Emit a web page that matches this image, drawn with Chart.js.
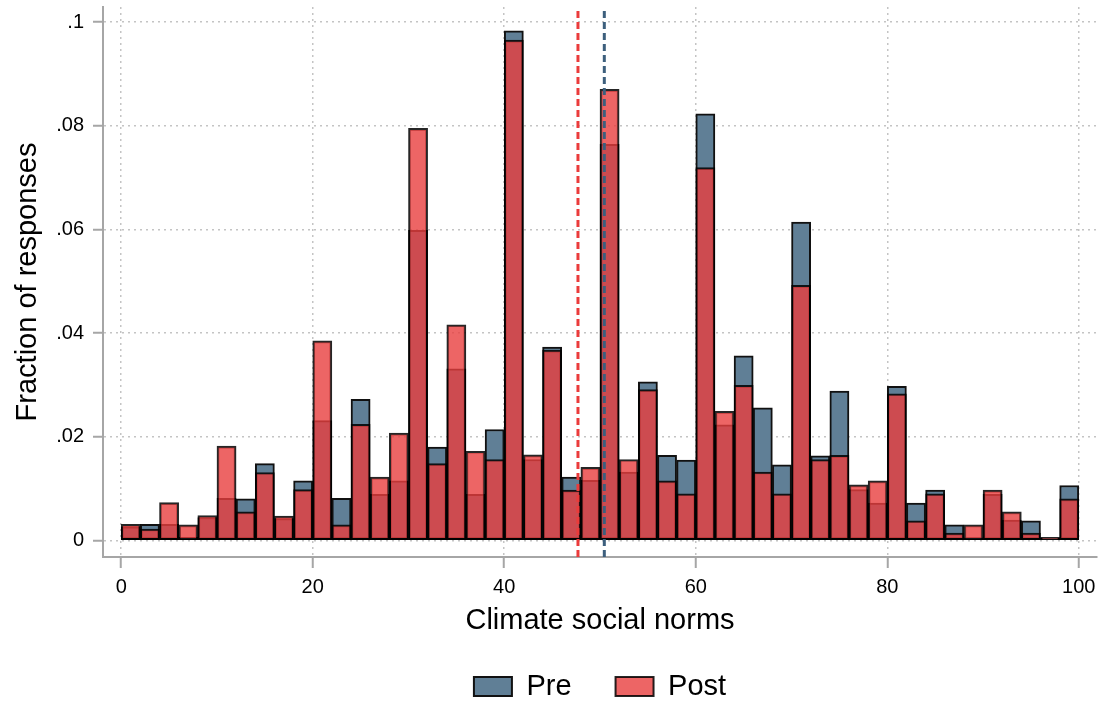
<!DOCTYPE html>
<html><head><meta charset="utf-8">
<script src="https://cdn.jsdelivr.net/npm/chart.js@4/dist/chart.umd.min.js"></script>
<style>html,body{margin:0;padding:0;background:#fff}canvas{display:block}</style>
</head><body>
<canvas id="c" width="1104" height="705"></canvas>
<script>
// ---- data ----
const binCenters = [1,3,5,7,9,11,13,15,17,19,21,23,25,27,29,31,33,35,37,39,41,43,45,47,49,
                    51,53,55,57,59,61,63,65,67,69,71,73,75,77,79,81,83,85,87,89,91,93,95,97,99];
const preValues = [0.0026,0.0031,0.0031,0.0006,0.0044,0.0081,0.0080,0.0148,0.0042,0.0115,
                   0.0231,0.0081,0.0272,0.0089,0.0115,0.0598,0.0180,0.0331,0.0089,0.0214,
                   0.0983,0.0156,0.0373,0.0122,0.0116,0.0764,0.0132,0.0306,0.0164,0.0155,
                   0.0823,0.0223,0.0356,0.0256,0.0146,0.0614,0.0163,0.0288,0.0098,0.0072,
                   0.0297,0.0072,0.0097,0.0030,0.0005,0.0089,0.0039,0.0038,0.0004,0.0106];
const postValues = [0.0031,0.0022,0.0073,0.0030,0.0048,0.0182,0.0055,0.0131,0.0047,0.0098,
                    0.0385,0.0030,0.0224,0.0122,0.0207,0.0795,0.0148,0.0416,0.0172,0.0156,
                    0.0965,0.0165,0.0367,0.0097,0.0141,0.0870,0.0156,0.0291,0.0115,0.0090,
                    0.0719,0.0249,0.0299,0.0132,0.0090,0.0492,0.0156,0.0164,0.0107,0.0115,
                    0.0283,0.0038,0.0090,0.0014,0.0030,0.0097,0.0055,0.0014,0.0006,0.0080];
const meanPre = 50.45;
const meanPost = 47.7;
const xTickValues = [0,20,40,60,80,100];
const yTickValues = [0,0.02,0.04,0.06,0.08,0.1];
const yTickLabels = ['0','.02','.04','.06','.08','.1'];
const xRange = [-1.9, 101.9];
const yRange = [-0.0032, 0.1029];
const seriesNames = ['Pre','Post'];
const xTitle = 'Climate social norms';
const yTitle = 'Fraction of responses';

// ---- chart ----
const FONT = "'Liberation Sans', Arial, sans-serif";
const toPts = vals => vals.map((v,i) => ({x: binCenters[i], y: v}));
const vline = x => [{x: x, y: yRange[0]}, {x: x, y: yRange[1]}];

const bgPlugin = {
  id: 'bg',
  beforeDraw(chart){ const c = chart.ctx; c.save(); c.fillStyle = '#fff'; c.fillRect(0,0,chart.width,chart.height); c.restore(); }
};

const gridCommon = {color: '#c4c4c4', lineWidth: 1.5, tickColor: '#a6a6a6', tickWidth: 2, offset: false};

new Chart(document.getElementById('c'), {
  type: 'bar',
  data: {
    datasets: [
      {label: seriesNames[0], data: toPts(preValues), order: 3,
       backgroundColor: '#607f96', borderColor: '#111', borderWidth: 2, borderSkipped: false},
      {label: seriesNames[1], data: toPts(postValues), order: 2,
       backgroundColor: 'rgba(233,62,62,0.8)', borderColor: 'rgba(0,0,0,0.85)', borderWidth: 2, borderSkipped: false},
      {type: 'line', label: 'mean post', data: vline(meanPost), order: 1,
       borderColor: '#eb3b3b', borderWidth: 3, borderDash: [7,4], pointRadius: 0, fill: false},
      {type: 'line', label: 'mean pre', data: vline(meanPre), order: 0,
       borderColor: '#3d5f7d', borderWidth: 3, borderDash: [7,4], pointRadius: 0, fill: false}
    ]
  },
  options: {
    responsive: false, animation: false, devicePixelRatio: 1,
    grouped: false, barPercentage: 1, categoryPercentage: 1,
    layout: {padding: {top: 7, right: 7, left: 0, bottom: -6}},
    plugins: {
      tooltip: {enabled: false},
      legend: {
        position: 'bottom', fullSize: false,
        labels: {
          font: {family: FONT, size: 29}, color: '#000',
          boxWidth: 38, boxHeight: 19, padding: 44,
          filter: item => item.datasetIndex < 2,
          sort: (a,b) => a.datasetIndex - b.datasetIndex
        }
      }
    },
    scales: {
      x: {
        type: 'linear', min: xRange[0], max: xRange[1], offset: false,
        afterBuildTicks: ax => { ax.ticks = xTickValues.map(v => ({value: v})); },
        afterFit: s => { s.height = 71; s.paddingLeft = 0; s.paddingRight = 0; },
        grid: Object.assign({}, gridCommon, {tickLength: 11}),
        border: {display: true, color: '#a6a6a6', width: 2, dash: [2,4]},
        ticks: {font: {family: FONT, size: 20}, color: '#000', padding: 7, maxRotation: 0, autoSkip: false},
        title: {display: true, text: xTitle, font: {family: FONT, size: 29}, color: '#000', padding: {top: 0, bottom: -10.4}}
      },
      y: {
        type: 'linear', min: yRange[0], max: yRange[1],
        afterBuildTicks: ax => { ax.ticks = yTickValues.map(v => ({value: v})); },
        afterFit: s => { s.width = 103; s.paddingTop = 0; s.paddingBottom = 0; },
        grid: Object.assign({}, gridCommon, {tickLength: 10}),
        border: {display: true, color: '#a6a6a6', width: 2, dash: [2,4]},
        ticks: {font: {family: FONT, size: 20}, color: '#000', padding: 9, autoSkip: false,
                callback: (v, i) => yTickLabels[i]},
        title: {display: true, text: yTitle, font: {family: FONT, size: 29}, color: '#000', padding: {top: 11, bottom: 0}}
      }
    }
  },
  plugins: [bgPlugin]
});
</script>
</body></html>
